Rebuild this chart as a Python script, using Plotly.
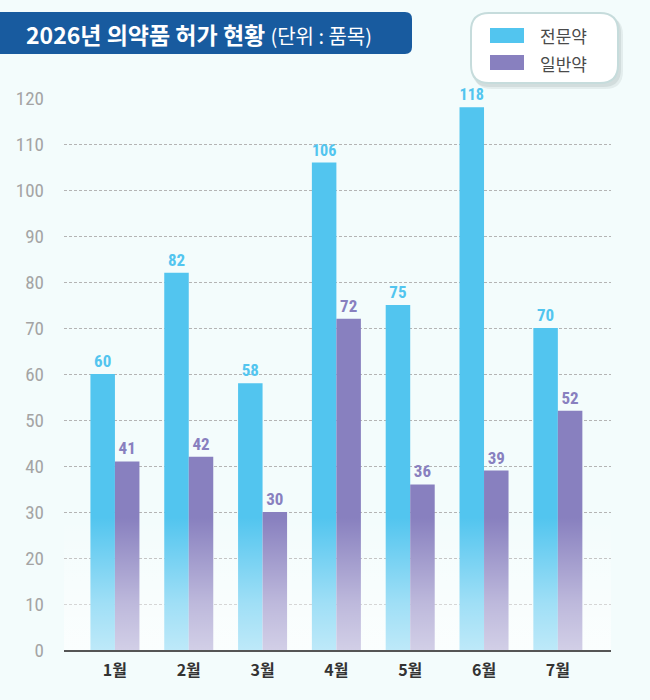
import base64
import plotly.graph_objects as go

months = ["1월", "2월", "3월", "4월", "5월", "6월", "7월"]
rx_drugs = [60, 82, 58, 106, 75, 118, 70]      # 전문약
otc_drugs = [41, 42, 30, 72, 36, 39, 52]       # 일반약
series_names = ["전문약", "일반약"]
y_ticks = list(range(0, 121, 10))

BLUE = "#52c5ef"
PURPLE = "#8880bf"
BG = "#f3fcfc"

W, H = 650, 700
L, R, T, B = 64, 39, 98, 50
PW, PH = W - L - R, H - T - B


def px(x):
    return (x - L) / PW


def py(y):
    return (H - B - y) / PH


def round_rect(x0, y0, x1, y1, r, left_round=True):
    # rounded rectangle in pixel coords -> paper path
    pts = []
    if left_round:
        pts.append(f"M{px(x0 + r)},{py(y0)}")
    else:
        pts.append(f"M{px(x0)},{py(y0)}")
    pts.append(f"L{px(x1 - r)},{py(y0)}")
    pts.append(f"Q{px(x1)},{py(y0)} {px(x1)},{py(y0 + r)}")
    pts.append(f"L{px(x1)},{py(y1 - r)}")
    pts.append(f"Q{px(x1)},{py(y1)} {px(x1 - r)},{py(y1)}")
    if left_round:
        pts.append(f"L{px(x0 + r)},{py(y1)}")
        pts.append(f"Q{px(x0)},{py(y1)} {px(x0)},{py(y1 - r)}")
        pts.append(f"L{px(x0)},{py(y0 + r)}")
        pts.append(f"Q{px(x0)},{py(y0)} {px(x0 + r)},{py(y0)}")
    else:
        pts.append(f"L{px(x0)},{py(y1)}")
    pts.append("Z")
    return " ".join(pts)


num_font = "Liberation Sans Narrow, Roboto Condensed, Arial Narrow, sans-serif"
kr_font = "Noto Sans CJK KR, sans-serif"

fig = go.Figure()
for name, vals, col in [(series_names[0], rx_drugs, BLUE), (series_names[1], otc_drugs, PURPLE)]:
    fig.add_trace(go.Bar(
        x=months, y=vals, name=name,
        marker=dict(color=col, line_width=0),
        text=vals, texttemplate="%{y}", textposition="outside",
        textfont=dict(family=num_font, size=17, color=col, weight="bold"),
        cliponaxis=False,
    ))

shapes = []
# title box
shapes.append(dict(type="path", xref="paper", yref="paper", path=round_rect(0, 12, 412, 54, 7, left_round=False),
                   fillcolor="#185b9f", line_width=0, layer="above"))
# legend box shadow + box
shapes.append(dict(type="path", xref="paper", yref="paper", path=round_rect(474, 17, 623, 89, 18),
                   fillcolor="rgba(90,110,110,0.10)", line_width=0, layer="above"))
shapes.append(dict(type="path", xref="paper", yref="paper", path=round_rect(472, 15, 621, 87, 18),
                   fillcolor="rgba(90,110,110,0.12)", line_width=0, layer="above"))
shapes.append(dict(type="path", xref="paper", yref="paper", path=round_rect(471, 13, 618, 83, 18),
                   fillcolor="#ffffff", line=dict(color="#c6dcdc", width=2), layer="above"))
for i, col in enumerate([BLUE, PURPLE]):
    y0 = 28 + i * 27
    shapes.append(dict(type="rect", xref="paper", yref="paper", x0=px(490), x1=px(524), y0=py(y0), y1=py(y0 + 15),
                       fillcolor=col, line_width=0, layer="above"))

annotations = [
    dict(xref="paper", yref="paper", x=px(24), y=py(34), xanchor="left", yanchor="middle", showarrow=False,
         text="<b>2026년 의약품 허가 현황</b> <span style='font-size:20px'>(단위 : 품목)</span>",
         font=dict(family=kr_font, size=23, color="#ffffff")),
]
for i, name in enumerate(series_names):
    annotations.append(dict(xref="paper", yref="paper", x=px(538), y=py(36 + i * 27), xanchor="left",
                            yanchor="middle", showarrow=False, text=name,
                            font=dict(family=kr_font, size=17, color="#4a4a4a")))

# soft light gradient at the bottom of bars
svg = ("<svg xmlns='http://www.w3.org/2000/svg' width='100' height='100' viewBox='0 0 100 100' "
       "preserveAspectRatio='none'><defs><linearGradient id='g' x1='0' y1='1' x2='0' y2='0'>"
       "<stop offset='0' stop-color='#ffffff' stop-opacity='0.62'/>"
       "<stop offset='0.35' stop-color='#ffffff' stop-opacity='0.45'/>"
       "<stop offset='1' stop-color='#ffffff' stop-opacity='0'/></linearGradient></defs>"
       "<rect width='100' height='100' fill='url(#g)'/></svg>")
src = "data:image/svg+xml;base64," + base64.b64encode(svg.encode()).decode()

fig.update_layout(
    width=W, height=H,
    margin=dict(l=L, r=R, t=T, b=B),
    paper_bgcolor=BG, plot_bgcolor=BG,
    showlegend=False,
    barmode="group", bargap=0.336, bargroupgap=0,
    shapes=shapes, annotations=annotations,
    images=[dict(source=src, xref="paper", yref="paper", x=0, y=0, sizex=1, sizey=0.24,
                 xanchor="left", yanchor="bottom", sizing="stretch", layer="above")],
    xaxis=dict(
        range=[-0.69, 6.72], showgrid=False, showline=True, linecolor="#555555", linewidth=2,
        ticks="", tickfont=dict(family=kr_font, size=16, color="#333333", weight="bold"),
        ticklabelstandoff=5,
    ),
    yaxis=dict(
        range=[0, 120], tickvals=y_ticks, showgrid=True, gridcolor="#b4b4b4", gridwidth=1,
        griddash="3px,2px", zeroline=False, ticks="",
        tickfont=dict(family=num_font, size=19, color="#a4a4a4"), ticklabelstandoff=19,
    ),
)

fig.write_html("out.html", config={"displayModeBar": False},
               post_script="document.body.style.margin='0';")
